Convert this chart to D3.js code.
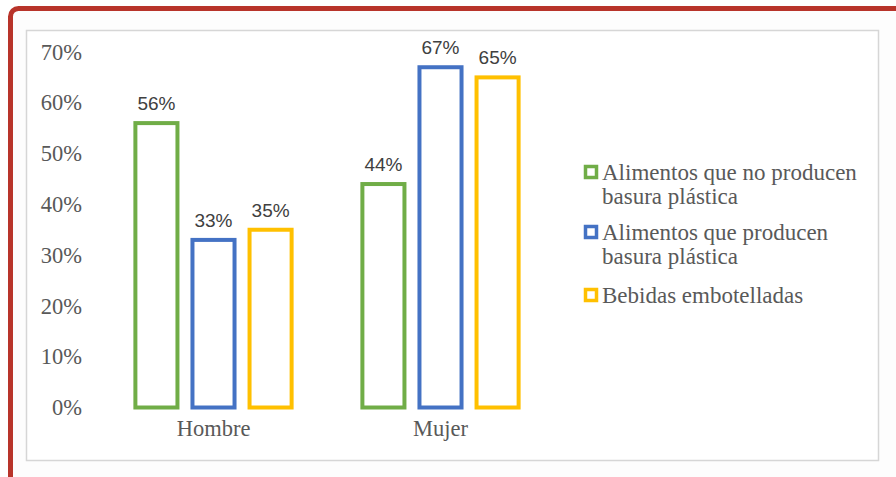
<!DOCTYPE html>
<html>
<head>
<meta charset="utf-8">
<script src="https://cdn.jsdelivr.net/npm/d3@7/dist/d3.min.js"></script>
<style>
  html, body { margin: 0; padding: 0; background: #ffffff; }
  svg { display: block; }
</style>
</head>
<body>
<svg id="chart" width="896" height="477"></svg>
<script>
// Categories, series and values
const categories = ["Hombre", "Mujer"];
const seriesNames = [
  ["Alimentos que no producen", "basura plástica"],
  ["Alimentos que producen", "basura plástica"],
  ["Bebidas embotelladas"]
];
const seriesColors = ["#70ad47", "#4472c4", "#ffc000"];
const noPlastico = [56, 44];
const conPlastico = [33, 67];
const embotelladas = [35, 65];
const yTicks = [0, 10, 20, 30, 40, 50, 60, 70];

const values = [noPlastico, conPlastico, embotelladas];

const svg = d3.select("#chart");

// Outer red frame
svg.append("rect")
  .attr("x", 10.5).attr("y", 8.5)
  .attr("width", 920).attr("height", 500)
  .attr("rx", 8).attr("ry", 8)
  .attr("fill", "#fdfdfd")
  .attr("stroke", "#b8342a")
  .attr("stroke-width", 5);

// Chart area box
svg.append("rect")
  .attr("x", 26.5).attr("y", 30.5)
  .attr("width", 852).attr("height", 430)
  .attr("fill", "#ffffff")
  .attr("stroke", "#d6d6d6")
  .attr("stroke-width", 1.5);

// Scales
const y = d3.scaleLinear().domain([0, 70]).range([407.5, 52]);
const x0 = d3.scaleBand().domain(categories).range([100, 554]).paddingInner(0).paddingOuter(0);
const x1 = d3.scaleBand().domain(d3.range(values.length)).range([0, x0.bandwidth()])
  .paddingInner(0.263).paddingOuter(0.62);

// Y axis labels
const yAxis = d3.axisLeft(y)
  .tickValues(yTicks)
  .tickFormat(d => d + "%")
  .tickSize(0)
  .tickPadding(0);
const yG = svg.append("g").attr("transform", "translate(82,0)").call(yAxis);
yG.select(".domain").remove();
yG.selectAll("text")
  .attr("font-family", "'Liberation Serif', 'Times New Roman', serif")
  .attr("font-size", 22.5)
  .attr("fill", "#595959");

// X axis labels
const xAxis = d3.axisBottom(x0).tickSize(0).tickPadding(0);
const xG = svg.append("g").attr("transform", "translate(0,420)").call(xAxis);
xG.select(".domain").remove();
xG.selectAll("text")
  .attr("font-family", "'Liberation Serif', 'Times New Roman', serif")
  .attr("font-size", 22.5)
  .attr("fill", "#595959");

// Bars (outlined) and value labels
const groups = svg.append("g").selectAll("g")
  .data(categories)
  .join("g")
  .attr("transform", d => `translate(${x0(d)},0)`);

groups.each(function(cat, ci) {
  const g = d3.select(this);
  values.forEach((vals, si) => {
    const v = vals[ci];
    const bx = x1(si);
    const bw = x1.bandwidth();
    g.append("rect")
      .attr("x", bx)
      .attr("y", y(v))
      .attr("width", bw)
      .attr("height", y(0) - y(v))
      .attr("fill", "#ffffff")
      .attr("stroke", seriesColors[si])
      .attr("stroke-width", 4);
    g.append("text")
      .attr("x", bx + bw / 2)
      .attr("y", y(v) - 13)
      .attr("text-anchor", "middle")
      .attr("font-family", "'Liberation Sans', Arial, sans-serif")
      .attr("font-size", 19)
      .attr("fill", "#404040")
      .text(v + "%");
  });
});

// Legend
const legendX = 584;
const legendRows = [172, 232, 295];
const lineGap = 24;
const legend = svg.append("g");
seriesNames.forEach((lines, i) => {
  const cy = legendRows[i];
  legend.append("rect")
    .attr("x", legendX + 1.5).attr("y", cy - 5.5)
    .attr("width", 11).attr("height", 11)
    .attr("fill", "#ffffff")
    .attr("stroke", seriesColors[i])
    .attr("stroke-width", 3.5);
  lines.forEach((t, li) => {
    legend.append("text")
      .attr("x", legendX + 18)
      .attr("y", cy + li * lineGap)
      .attr("dy", "0.33em")
      .attr("font-family", "'Liberation Serif', 'Times New Roman', serif")
      .attr("font-size", 23)
      .attr("fill", "#595959")
      .text(t);
  });
});
</script>
</body>
</html>
